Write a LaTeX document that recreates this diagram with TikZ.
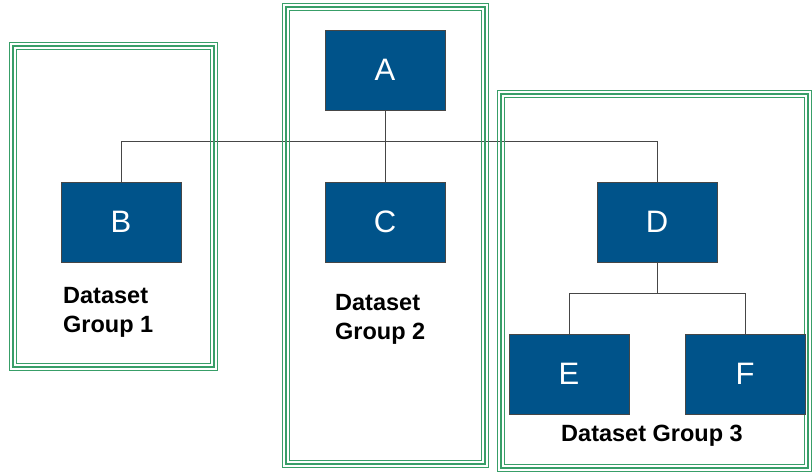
\documentclass[tikz,border=0pt]{standalone}
\usepackage{fontspec}
\setmainfont{Liberation Sans}
\usetikzlibrary{calc}
\usetikzlibrary{positioning}

\definecolor{framegreen}{RGB}{56,158,104}
\definecolor{boxblue}{RGB}{0,83,138}
\definecolor{wiregray}{RGB}{70,70,70}

\tikzset{
  blockbox/.style={draw=wiregray, line width=0.8pt, fill=boxblue, text=white,
    minimum width=120pt, minimum height=80pt, inner sep=0pt,
    font=\fontsize{31}{33}\selectfont},
  grouplabel/.style={inner sep=0pt, align=left,
    font=\fontsize{23.5}{29}\selectfont\bfseries},
  wire/.style={draw=wiregray, line width=1pt},
}

\begin{document}
\begin{tikzpicture}[x=1pt, y=-1pt]
  \useasboundingbox (0,0) rectangle (812,472);

  % blocks
  \node[blockbox] (A) at (385,70)  {A};
  \node[blockbox] (B) at (121,222) {B};
  \node[blockbox] (C) at (385,222) {C};
  \node[blockbox] (D) at (657,222) {D};
  \node[blockbox] (E) at (569,374) {E};
  \node[blockbox] (F) at (745,374) {F};

  % connectors
  \draw[wire] (B.north) -- ++(0,-40) -| (D.north);
  \draw[wire] (A.south) -- (C.north);
  \draw[wire] (D.south) -- ++(0,31) coordinate (dsplit);
  \draw[wire] (E.north) |- (dsplit) -| (F.north);

  % green triple frames
  \foreach \xa / \ya / \xb / \yb in {
    9/42/217/370,
    282/3/488/467,
    497/90/811/471
  }{
    \draw[framegreen, line width=1pt] (\xa,\ya) rectangle (\xb,\yb);
    \draw[framegreen, line width=2pt] (\xa+3.5,\ya+3.5) rectangle (\xb-3.5,\yb-3.5);
    \draw[framegreen, line width=1pt] (\xa+7,\ya+7) rectangle (\xb-7,\yb-7);
  }

  % blocks again on top of the frames
  \foreach \n in {A,B,C,D,E,F}{
    \node[blockbox] at (\n) {\n};
  }

  % group labels
  \node[grouplabel, anchor=west] (lab1) at (63,312)  {Dataset\\Group 1};
  \node[grouplabel, anchor=west] (lab2) at (335,319) {Dataset\\Group 2};
  \node[grouplabel] (lab3) at (652,436) {Dataset Group 3};
\end{tikzpicture}
\end{document}
